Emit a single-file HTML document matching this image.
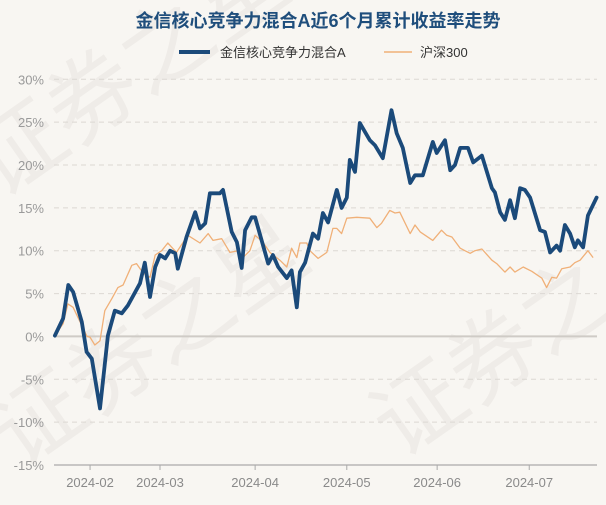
<!DOCTYPE html>
<html><head><meta charset="utf-8">
<style>
html,body{margin:0;padding:0;background:#f8f6f2;}
body{width:606px;height:500px;overflow:hidden;font-family:"Liberation Sans","Noto Sans CJK SC",sans-serif;}
</style></head>
<body>
<svg id="chart" width="606" height="500" xmlns="http://www.w3.org/2000/svg">
<rect width="606" height="500" fill="#f8f6f2"/>
<g fill="#efece8" font-size="90" font-family="Noto Sans CJK SC, sans-serif">
<text x="0" y="200" transform="rotate(-35 0 200)">证券之星</text>
<text x="20" y="470" transform="rotate(-35 20 470)">证券之星</text>
<text x="400" y="460" transform="rotate(-35 400 460)">证券之</text>
</g>
<text x="318" y="27" text-anchor="middle" font-size="18" font-weight="bold" fill="#1f4e7c" font-family="Liberation Sans, Noto Sans CJK SC, sans-serif">金信核心竞争力混合A近6个月累计收益率走势</text>
<g>
<line x1="179" y1="52" x2="210" y2="52" stroke="#1b4a7a" stroke-width="4"/>
<text x="220" y="57" font-size="13" fill="#333">金信核心竞争力混合A</text>
<line x1="384" y1="52" x2="412" y2="52" stroke="#f0b078" stroke-width="1.5"/>
<text x="420" y="57" font-size="13" fill="#333">沪深300</text>
</g>
<g id="grid"></g><g id="axes"></g><g id="series"></g>
</svg>
<script>
const yTicks=[30,25,20,15,10,5,0,-5,-10,-15];
const xTickIdx=[8.3,24.4,46.3,67.4,88.2,109.4];
const xTickLabels=["2024-02","2024-03","2024-04","2024-05","2024-06","2024-07"];
const fundIdx=[0.2,2.1,3.3,4.4,6.4,7.5,8.7,10.6,12.4,14.0,15.6,17.0,19.8,20.9,22.1,23.3,24.4,25.6,26.7,27.9,28.5,30.5,32.5,33.6,34.8,35.9,38.2,38.9,40.9,42.1,43.2,44.0,45.5,46.3,49.3,50.4,51.6,53.6,54.7,55.9,56.6,57.8,59.6,60.8,61.9,63.1,65.1,66.2,67.4,68.1,69.3,70.4,72.7,73.9,75.7,77.7,78.9,80.3,82.0,83.1,84.9,87.2,88.1,90.0,91.2,92.3,93.5,95.3,96.5,98.5,100.8,101.5,102.7,103.8,105.0,106.1,107.3,108.4,109.6,111.9,113.0,114.2,115.7,116.5,117.6,118.8,119.9,120.6,121.8,122.9,124.9];
const fundVals=[0.1,2.1,6.0,5.2,1.7,-1.8,-2.6,-8.4,0.1,3.0,2.7,3.6,6.2,8.6,4.6,8.1,9.5,9.1,10.0,9.7,7.9,11.6,14.5,12.6,13.2,16.7,16.7,17.1,12.2,11.0,8.0,12.4,13.9,13.9,8.5,9.5,8.1,6.8,7.7,3.4,7.5,8.6,12.0,11.4,14.4,13.3,17.1,15.0,16.2,20.6,19.2,24.9,22.9,22.3,20.8,26.4,23.7,22.0,17.9,18.8,18.8,22.7,21.4,22.9,19.4,20.0,22.0,22.0,20.3,21.1,17.3,16.8,14.5,13.6,15.9,13.8,17.3,17.1,16.2,12.4,12.2,9.8,10.6,10.0,13.0,12.0,10.4,11.2,10.4,14.1,16.2];
const indexIdx=[0.2,2.1,3.2,4.4,7.6,8.3,9.4,10.6,11.7,13.3,14.7,15.9,17.9,19.0,20.5,22.1,23.3,24.8,26.2,28.2,30.8,33.6,35.5,36.6,38.6,40.5,42.4,43.5,45.1,46.3,48.1,49.7,52.0,53.6,54.7,55.9,56.6,58.2,58.9,60.8,62.8,64.2,65.1,66.2,67.4,69.7,72.7,74.3,75.4,77.3,78.5,79.6,82.0,83.1,84.3,87.2,89.2,90.4,91.6,93.5,94.6,95.8,96.9,98.5,100.8,101.9,103.8,105.0,106.1,108.0,110.0,112.3,113.4,114.6,115.7,116.9,118.8,119.9,121.1,122.9,124.1];
const indexVals=[0.1,1.5,3.8,3.4,0,-0.1,-1.0,-0.5,3.0,4.4,5.7,6.0,8.3,8.5,7.4,6.9,9.5,10.0,10.9,9.8,11.8,10.9,12.0,11.2,11.4,9.8,10.0,9.2,10.0,11.8,11.0,9.8,8.9,8.1,10.3,9.2,10.9,10.9,10.0,9.1,9.8,12.6,12.6,12.0,13.8,13.9,13.8,12.7,13.2,14.7,14.4,14.5,12.0,13.0,12.2,11.2,12.4,11.8,11.6,10.3,10.0,9.7,10.0,10.2,8.9,8.5,7.5,8.1,7.5,8.1,7.6,6.8,5.7,6.9,6.8,7.9,8.1,8.6,8.9,10.0,9.2];

const X0=54,X1=597,Y0=465,Y1=79.3;
const xs=i=>X0+(X1-X0)*i/125;
const ys=v=>Y0-(Y0-Y1)*(v+15)/45;
const NS="http://www.w3.org/2000/svg";
function mk(tag,attrs,parent){const e=document.createElementNS(NS,tag);for(const k in attrs)e.setAttribute(k,attrs[k]);parent.appendChild(e);return e;}
const grid=document.getElementById('grid'),axes=document.getElementById('axes'),series=document.getElementById('series');
yTicks.forEach(v=>{
  const y=ys(v);
  if(v!==-15){
    const l=mk('line',{x1:X0,x2:X1,y1:y,y2:y,stroke:v===0?'#cfcbc6':'#dcd8d3','stroke-width':v===0?2:1,'stroke-dasharray':v===0?'':'5,4'},grid);
    
    
  }
  const t=mk('text',{x:44,y:y+5,'text-anchor':'end','font-size':13,fill:'#9a9a9a'},axes);
  t.textContent=v+'%';
  
  
});
const ax=mk('line',{x1:X0,x2:X1,y1:Y0,y2:Y0,stroke:'#aaa','stroke-width':1.2},axes);


xTickIdx.forEach((d,i)=>{
  const x=xs(d);
  const tk=mk('line',{x1:x,x2:x,y1:Y0,y2:Y0+5,stroke:'#aaa'},axes);
  
  
  const t=mk('text',{x:x,y:487,'text-anchor':'middle','font-size':13,fill:'#8a8a8a'},axes);
  t.textContent=xTickLabels[i];
  
  
});
function path(idx,vals){return idx.map((d,i)=>(i?'L':'M')+xs(d).toFixed(1)+','+ys(vals[i]).toFixed(1)).join('');}
const pi=mk('path',{d:path(indexIdx,indexVals),fill:'none',stroke:'#f0b078','stroke-width':1.3,'stroke-linejoin':'round'},series);


const pf=mk('path',{d:path(fundIdx,fundVals),fill:'none',stroke:'#1b4a7a','stroke-width':3.8,'stroke-linejoin':'round','stroke-linecap':'round'},series);


</script>
</body></html>
